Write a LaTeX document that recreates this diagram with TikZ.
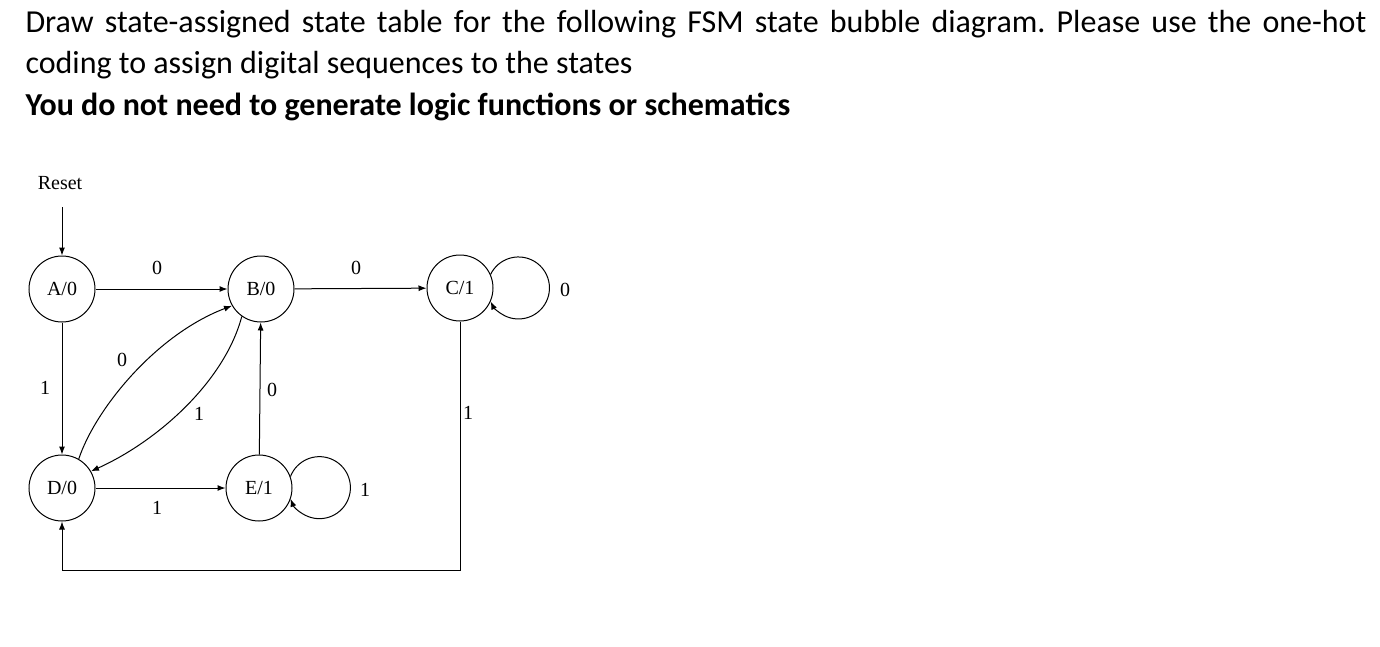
\documentclass[tikz,border=0pt]{standalone}
\usepackage{fontspec}
\setmainfont{Carlito}
\newfontfamily\diagfont{Liberation Serif}
\usetikzlibrary{arrows.meta}
\frenchspacing
\tikzset{every picture/.style={line width=0.75pt}}
\tikzset{
  state/.style={draw, circle, minimum size=49.5pt, inner sep=0pt, font=\diagfont\fontsize{15}{17}\selectfont},
  lbl/.style={inner sep=0.75pt, font=\diagfont\fontsize{15}{17}\selectfont},
  trans/.style={-{Latex[length=6pt,width=4.5pt]}},
  task/.style={anchor=base west, inner sep=0pt, font=\fontsize{24}{28}\selectfont},
}

\begin{document}
\begin{tikzpicture}[x=0.75pt,y=0.75pt,yscale=-1,xscale=1]
\useasboundingbox (0,0) rectangle (1380,646);

% Task text
\node[task] (line1) at (25,32) {\makebox[1005.75pt][s]{Draw state-assigned state table for the following FSM state bubble diagram. Please use the one-hot}};
\node[task] (line2) at (25,73) {coding to assign digital sequences to the states};
\node[task, font=\fontsize{24}{28}\selectfont\bfseries] (line3) at (25,115) {You do not need to generate logic functions or schematics};

%States
\node[state] (A) at (62,289) {A/0};
\node[state] (B) at (261,289) {B/0};
\node[state] (C) at (460,288) {C/1};
\node[state] (D) at (62,488) {D/0};
\node[state] (E) at (259,488) {E/1};

% Reset
\node[lbl] (reset) at (60,183) {Reset};
\coordinate (rs) at (62,207);
\draw[trans] (rs) -- (A);

%Straight Lines
\draw[trans] (A) -- (B);
\draw[trans] (B) -- (C);
\draw[trans] (A) -- (D);
\draw[trans] (D) -- (E);
\draw[trans] (E) -- (B);
\draw[trans] (C.south) -- ++(0,249) -| (D.south);

%Curves
\draw[trans] (D.60) .. controls (95,410) and (155,335) .. (B.210);
\draw[trans] (B.235) .. controls (225,380) and (160,440) .. (D.30);

%Self loops
\draw[trans] (C.24) arc[start angle=206, end angle=514, radius=31];
\draw[trans] (E.20) arc[start angle=201, end angle=519, radius=31];

% Text Node
\node[lbl] (l_ab) at (157,268) {0};
\node[lbl] (l_bc) at (356,268) {0};
\node[lbl] (l_cc) at (565,290) {0};
\node[lbl] (l_ad) at (45,388) {1};
\node[lbl] (l_db) at (122,360) {0};
\node[lbl] (l_bd) at (199,414) {1};
\node[lbl] (l_eb) at (272,390) {0};
\node[lbl] (l_cd) at (468,413) {1};
\node[lbl] (l_de) at (157,508) {1};
\node[lbl] (l_ee) at (365,490) {1};

\end{tikzpicture}
\end{document}
